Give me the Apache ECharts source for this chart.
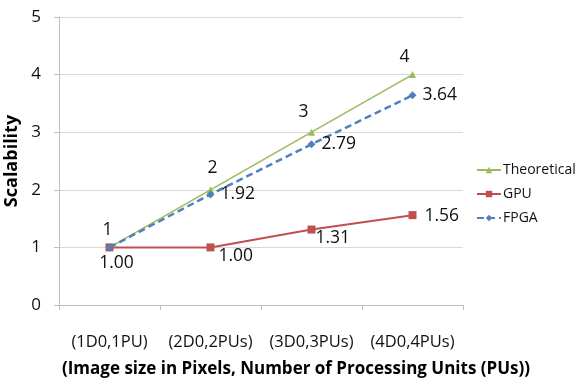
<!DOCTYPE html>
<html><head><meta charset="utf-8">
<script src="https://cdn.jsdelivr.net/npm/echarts@6/dist/echarts.min.js"></script>
<style>html,body{margin:0;padding:0;background:#fff}#c{width:579px;height:379px}</style>
</head><body><div id="c"></div>
<script>
const categories = ['(1D0,1PU)', '(2D0,2PUs)', '(3D0,3PUs)', '(4D0,4PUs)'];
const theoretical = [1, 2, 3, 4];
const gpu = [1.00, 1.00, 1.31, 1.56];
const fpga = [1.00, 1.92, 2.79, 3.64];
const yTicks = [0, 1, 2, 3, 4, 5];

const FONT = 'Open Sans';
const lbl = {fontFamily: FONT, fontSize: 17.5, color: '#111'};

const theoLabelOffsets = [[-2, 1], [2, -3], [-8, -2], [-8, 1]];
const gpuLabelCfg = [
  {position: 'bottom', offset: [7, -3]},
  {position: 'right', offset: [-2, 9]},
  {position: 'right', offset: [-6, 8]},
  {position: 'right', offset: [2, 1]}
];

const chart = echarts.init(document.getElementById('c'));
chart.setOption({
  animation: false,
  textStyle: {fontFamily: FONT},
  grid: {left: 59, right: 116, top: 17, bottom: 74, containLabel: false, outerBoundsMode: 'none'},
  legend: {
    orient: 'vertical', left: 476, top: 163, padding: 0,
    itemWidth: 24, itemHeight: 8, itemGap: 10,
    textStyle: {fontFamily: FONT, fontSize: 14, color: '#111', padding: [0, 0, 0, -3]},
    data: ['Theoretical', 'GPU', 'FPGA']
  },
  xAxis: {
    type: 'category', data: categories, boundaryGap: true,
    axisLine: {lineStyle: {color: '#bfbfbf'}},
    axisTick: {show: true, length: 5, lineStyle: {color: '#bfbfbf'}},
    axisLabel: {fontFamily: FONT, fontSize: 16.5, color: '#111', margin: 29, interval: 0, hideOverlap: false},
    name: '(Image size in Pixels, Number of Processing Units (PUs))',
    nameLocation: 'middle', nameGap: 56,
    nameTextStyle: {fontFamily: FONT, fontSize: 17, fontWeight: 'bold', color: '#000', padding: [0, 0, 0, 70]}
  },
  yAxis: {
    type: 'value', min: yTicks[0], max: yTicks[yTicks.length - 1], interval: 1,
    axisLine: {show: true, lineStyle: {color: '#bfbfbf'}},
    axisTick: {show: true, length: 5, lineStyle: {color: '#bfbfbf'}},
    splitLine: {lineStyle: {color: '#d9d9d9'}},
    axisLabel: {fontFamily: FONT, fontSize: 17, color: '#111', margin: 18},
    name: 'Scalability', nameLocation: 'middle', nameGap: 37,
    nameTextStyle: {fontFamily: FONT, fontSize: 18, fontWeight: 'bold', color: '#000'}
  },
  series: [
    {
      name: 'Theoretical', type: 'line', data: theoretical.map((v, i) => ({
        value: v, label: {offset: theoLabelOffsets[i]}
      })),
      symbol: 'triangle', symbolSize: 7,
      lineStyle: {color: '#9bbb59', width: 1.5}, itemStyle: {color: '#9bbb59'},
      label: Object.assign({show: true, position: 'top', distance: 6, formatter: p => String(p.value)}, lbl),
      z: 3
    },
    {
      name: 'GPU', type: 'line', data: gpu.map((v, i) => ({
        value: v, label: gpuLabelCfg[i]
      })),
      symbol: 'rect', symbolSize: 8,
      lineStyle: {color: '#c0504d', width: 2}, itemStyle: {color: '#c0504d'},
      label: Object.assign({show: true, distance: 6, formatter: p => p.value.toFixed(2)}, lbl),
      z: 4
    },
    {
      name: 'FPGA', type: 'line', data: fpga.map((v, i) => ({
        value: v, label: {show: i > 0}
      })),
      symbol: 'diamond', symbolSize: 8,
      lineStyle: {color: '#4f81bd', width: 2.5, type: [7, 4]}, itemStyle: {color: '#4f81bd'},
      label: Object.assign({show: true, position: 'right', distance: 6, formatter: p => p.value.toFixed(2)}, lbl),
      z: 5
    }
  ]
});
</script></body></html>
